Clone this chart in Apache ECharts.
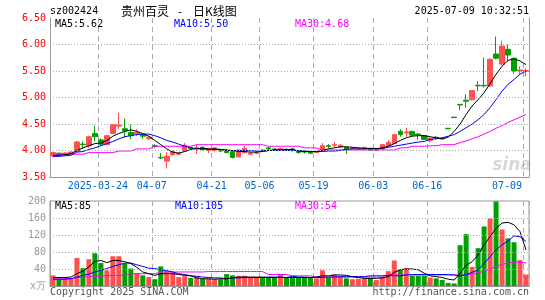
<!DOCTYPE html>
<html>
<head>
<meta charset="utf-8">
<script src="https://cdn.jsdelivr.net/npm/echarts@6/dist/echarts.min.js"></script>
<style>
html, body { margin: 0; padding: 0; background: #fff; }
#chart { width: 545px; height: 300px; }
</style>
</head>
<body>
<div id="chart"></div>
<script>
// 贵州百灵 日K线 (sz002424)

const tickPos = [8, 17, 27, 35, 44, 54, 63, 79];
const tickText = ['2025-03-24', '04-07', '04-21', '05-06', '05-19', '06-03', '06-16', '07-09'];
const priceLines = [4.0, 4.5, 5.0, 5.5, 6.0];
const volLines = [40, 80, 120, 160];

const opens = [3.90,3.95,3.93,3.94,3.98,4.12,4.09,4.32,4.20,4.11, 4.32,4.46,4.41,4.34,4.32,4.30,4.22,4.09,3.87,3.80,
  3.92,3.93,3.99,4.06,4.04,4.06,4.00,4.00,4.01,4.00, 3.98,3.88,3.96,3.93,3.95,4.01,4.05,4.03,4.01,4.02,
  4.03,3.99,3.98,3.98,3.96,4.00,4.09,4.10,4.07,4.06, 4.03,4.03,4.03,4.03,4.00,4.03,4.09,4.13,4.36,4.33,
  4.36,4.31,4.28,4.19,4.25,4.23,4.42,4.63,4.87,4.95, 4.96,5.23,5.23,5.22,5.82,5.63,5.91,5.74,5.50,5.49];
const closes = [3.96,3.92,3.95,3.97,4.16,4.11,4.26,4.26,4.12,4.28, 4.49,4.48,4.37,4.28,4.34,4.27,4.25,4.08,3.86,3.89,
  3.98,3.95,4.10,4.04,4.05,4.02,4.03,4.05,3.99,3.96, 3.87,4.01,4.04,3.95,3.96,3.99,4.03,4.02,4.04,4.01,
  4.02,3.96,3.97,3.95,3.98,4.09,4.08,4.11,4.10,4.02, 4.05,4.04,4.06,4.00,4.02,4.11,4.15,4.30,4.30,4.35,
  4.29,4.29,4.21,4.23,4.24,4.22,4.41,4.62,4.86,4.93, 5.13,5.22,5.22,5.72,5.74,5.97,5.80,5.50,5.52,5.51];
const lows = [3.87,3.89,3.91,3.92,3.97,4.04,4.05,4.17,4.09,4.10, 4.31,4.40,4.24,4.21,4.27,4.22,4.20,4.05,3.84,3.66,
  3.90,3.91,3.97,4.02,3.94,4.00,3.95,3.98,3.97,3.95, 3.85,3.87,3.94,3.91,3.93,3.97,4.00,4.00,4.00,3.99,
  3.98,3.94,3.94,3.93,3.95,3.99,4.04,4.05,4.04,3.94, 4.02,4.02,4.02,3.99,3.99,4.02,4.07,4.12,4.26,4.26,
  4.27,4.21,4.20,4.15,4.21,4.21,4.41,4.62,4.76,4.81, 4.94,5.12,5.19,5.20,5.72,5.61,5.68,5.45,5.44,5.40];
const highs = [3.98,3.96,3.97,3.99,4.18,4.17,4.28,4.47,4.23,4.29, 4.50,4.71,4.60,4.49,4.40,4.31,4.28,4.12,3.95,3.97,
  4.00,3.97,4.14,4.07,4.11,4.08,4.05,4.06,4.03,4.02, 3.99,4.02,4.09,3.97,3.99,4.02,4.07,4.04,4.05,4.04,
  4.05,4.00,4.00,3.99,3.99,4.14,4.12,4.16,4.12,4.07, 4.06,4.06,4.07,4.04,4.03,4.12,4.20,4.31,4.40,4.43,
  4.37,4.33,4.29,4.25,4.27,4.24,4.42,4.63,4.87,5.06, 5.14,5.31,5.75,5.74,6.15,6.07,6.00,5.75,5.59,5.55];

const ma5 = [3.90,3.91,3.92,3.94,4.00,4.05,4.09,4.13,4.14,4.19, 4.27,4.32,4.36,4.39,4.36,4.32,4.27,4.19,4.11,4.03,
  3.97,3.95,3.98,4.02,4.04,4.04,4.03,4.03,4.02,4.00, 4.00,3.98,3.98,3.97,3.97,3.98,4.00,4.01,4.02,4.02,
  4.02,3.99,3.98,3.98,3.98,4.00,4.03,4.05,4.07,4.07, 4.06,4.05,4.04,4.04,4.03,4.05,4.08,4.13,4.19,4.24,
  4.27,4.28,4.28,4.26,4.24,4.22,4.25,4.36,4.50,4.68, 4.84,4.96,5.09,5.26,5.44,5.59,5.70,5.73,5.69,5.62];
const ma10 = [3.89,3.89,3.90,3.91,3.97,3.98,4.02,4.05,4.09,4.13, 4.17,4.22,4.26,4.28,4.30,4.31,4.31,4.28,4.24,4.19,
  4.16,4.12,4.08,4.05,4.03,4.03,4.02,4.02,4.02,4.01, 4.00,4.00,4.00,4.00,3.99,3.99,4.00,4.00,4.00,4.00,
  4.00,4.00,3.99,3.98,3.98,3.98,3.99,3.99,4.00,4.02, 4.03,4.03,4.03,4.04,4.04,4.04,4.06,4.08,4.10,4.12,
  4.14,4.16,4.17,4.21,4.22,4.24,4.27,4.30,4.36,4.43, 4.50,4.58,4.68,4.81,4.96,5.12,5.25,5.34,5.44,5.50];
const ma30 = [3.93,3.93,3.93,3.93,3.93,3.93,3.96,3.96,3.96,3.96, 3.96,3.99,3.99,3.99,4.03,4.03,4.03,4.08,4.08,4.08,
  4.08,4.08,4.08,4.08,4.11,4.11,4.11,4.11,4.11,4.11, 4.11,4.11,4.11,4.11,4.11,4.11,4.08,4.08,4.08,4.08,
  4.08,4.08,4.05,4.05,4.05,4.01,4.01,4.01,4.01,4.01, 4.01,4.01,4.01,4.01,4.01,4.01,4.01,4.01,4.05,4.05,
  4.08,4.08,4.08,4.09,4.09,4.11,4.11,4.11,4.15,4.18, 4.22,4.26,4.31,4.36,4.42,4.47,4.53,4.58,4.63,4.68];

// 成交量 (万手)
const vol = [25,16,20,19,66,42,63,77,54,37, 70,70,53,41,30,25,21,16,46,35,
  32,21,23,19,23,17,17,16,16,28, 25,24,24,21,21,19,19,21,27,21,
  20,20,20,20,18,37,20,27,24,18, 16,17,18,19,14,21,35,60,38,42,
  24,24,24,20,18,14,7,6,96,122, 45,89,140,159,199,133,112,103,61,27];
const vma5 = [20,20,20,21,29,35,45,58,60,55, 60,60,57,53,44,33,29,25,29,29,
  29,27,25,24,19,17,17,16,17,17, 19,21,21,21,21,21,20,20,20,20,
  20,20,20,20,21,24,24,26,26,25, 22,20,18,18,18,19,22,32,38,40,
  40,38,30,24,22,20,16,14,30,49, 57,73,97,116,136,148,150,144,128,85];
const vma10 = [16,16,16,17,21,25,28,33,37,41, 46,50,54,54,50,46,42,41,38,36,
  33,29,27,24,23,21,20,19,19,17, 19,19,20,20,20,20,21,21,21,20,
  23,21,21,20,20,20,21,21,22,22, 22,22,22,24,24,24,25,24,24,26,
  27,27,27,27,27,27,27,26,24,27, 32,38,53,69,85,97,106,118,116,105];
const vma30 = [17,17,17,17,20,20,23,23,23,25, 25,25,25,29,29,29,29,29,33,33,
  33,33,33,33,33,33,34,34,34,34, 34,34,34,34,34,34,27,27,27,27,
  24,24,24,24,21,21,21,21,21,21, 21,21,21,21,21,21,26,26,26,26,
  26,26,26,26,26,26,26,26,25,26, 28,31,35,40,46,51,54,56,56,54];

const RED = '#ff5050';
const GREEN = '#00a000';
const MONO = 'DejaVu Sans Mono';

const cats = opens.map((_, i) => i);
const kData = opens.map((o, i) => [o, closes[i], lows[i], highs[i]]);
const volData = vol.map((v, i) => ({
    value: v,
    itemStyle: { color: closes[i] >= opens[i] ? RED : GREEN }
}));

const isTick = (i) => tickPos.indexOf(i) >= 0;

function txt(x, y, text, color, opts) {
    opts = opts || {};
    return {
        type: 'text', x: x, y: y, silent: true,
        style: {
            text: text, fill: color,
            font: opts.font || ('10px ' + MONO),
            textAlign: opts.align || 'left', align: opts.align || 'left',
            textVerticalAlign: 'middle', verticalAlign: 'middle'
        }
    };
}

function lineSeries(x, y, data, color) {
    return {
        type: 'line', xAxisIndex: x, yAxisIndex: y, data: data,
        symbol: 'none', silent: true,
        lineStyle: { color: color, width: 1 }
    };
}

// dotted horizontal guides, kept under the marks
function guideSeries(x, y, levels) {
    return {
        type: 'line', xAxisIndex: x, yAxisIndex: y, data: [], z: 1, silent: true,
        markLine: {
            silent: true, symbol: 'none', animation: false,
            label: { show: false },
            lineStyle: { color: '#aaa', width: 1, type: [1, 2] },
            data: levels.map(v => ({ yAxis: v }))
        }
    };
}

const chart = echarts.init(document.getElementById('chart'));

const option = {
    animation: false,
    backgroundColor: '#fff',
    grid: [
        { left: 50, right: 16, top: 18, height: 159 },
        { left: 50, right: 16, top: 201, height: 85, show: true, borderColor: '#999', borderWidth: 1 }
    ],
    xAxis: [
        {
            type: 'category', gridIndex: 0, data: cats, boundaryGap: true,
            axisLine: { lineStyle: { color: '#999' } },
            axisTick: { show: false },
            axisLabel: {
                interval: (i) => isTick(i),
                formatter: (v, i) => {
                    const k = tickPos.indexOf(i);
                    if (k < 0) return '';
                    return (i === cats.length - 1 ? '{b|' : '{a|') + tickText[k] + '}';
                },
                margin: 4,
                rich: {
                    a: { color: '#0066cc', fontFamily: MONO, fontSize: 10, padding: [0, 6, 0, 0] },
                    b: { color: '#0066cc', fontFamily: MONO, fontSize: 10, padding: [0, 38, 0, 0] }
                }
            },
            splitLine: { show: true, interval: (i) => isTick(i), lineStyle: { color: '#aaa', type: [5, 4] } }
        },
        {
            type: 'category', gridIndex: 1, data: cats, boundaryGap: true,
            axisLine: { lineStyle: { color: '#999' } },
            axisTick: { show: false },
            axisLabel: { show: false },
            splitLine: { show: true, interval: (i) => isTick(i), lineStyle: { color: '#aaa', type: [5, 4] } }
        }
    ],
    yAxis: [
        {
            type: 'value', gridIndex: 0, min: 3.5, max: 6.5, interval: 0.5,
            axisLine: { show: true, lineStyle: { color: '#999' } },
            axisTick: { show: false },
            axisLabel: { color: '#ff0000', fontFamily: MONO, fontSize: 10, margin: 4, formatter: (v) => v.toFixed(2) },
            splitLine: { show: false }
        },
        {
            type: 'value', gridIndex: 0, position: 'right', min: 3.5, max: 6.5, interval: 0.5,
            axisLine: { show: true, lineStyle: { color: '#999' } },
            axisTick: { show: false }, axisLabel: { show: false }, splitLine: { show: false }
        },
        {
            type: 'value', gridIndex: 1, min: 0, max: 200, interval: 40,
            axisLine: { show: true, lineStyle: { color: '#999' } },
            axisTick: { show: false },
            axisLabel: { color: '#999', fontFamily: MONO, fontSize: 10, margin: 4, formatter: (v) => v === 0 ? 'x万' : String(v) },
            splitLine: { show: false }
        }
    ],
    series: [
        guideSeries(0, 0, priceLines),
        guideSeries(1, 2, volLines),
        {
            type: 'candlestick', xAxisIndex: 0, yAxisIndex: 0, data: kData, barWidth: 5, silent: true,
            itemStyle: { color: RED, color0: GREEN, borderColor: RED, borderColor0: GREEN, borderWidth: 1 }
        },
        lineSeries(0, 0, ma30, '#ff00ff'),
        lineSeries(0, 0, ma10, '#0000ff'),
        lineSeries(0, 0, ma5, '#000000'),
        { type: 'bar', xAxisIndex: 1, yAxisIndex: 2, data: volData, barWidth: 5, silent: true },
        lineSeries(1, 2, vma30, '#ff00ff'),
        lineSeries(1, 2, vma10, '#0000ff'),
        lineSeries(1, 2, vma5, '#000000')
    ],
    graphic: [
        txt(50, 11, 'sz002424', '#000'),
        txt(121, 11, '贵州百灵', '#000', { font: '12px "Noto Sans CJK SC"' }),
        txt(180, 11, '-', '#000', { font: '12px "Noto Sans CJK SC"', align: 'center' }),
        txt(193, 11, '日K线图', '#000', { font: '12px "Noto Sans CJK SC"' }),
        txt(529, 11, '2025-07-09 10:32:51', '#000', { align: 'right' }),
        txt(55, 24, 'MA5:' + ma5[ma5.length - 1].toFixed(2), '#000'),
        txt(174, 24, 'MA10:' + ma10[ma10.length - 1].toFixed(2), '#0000ff'),
        txt(295, 24, 'MA30:' + ma30[ma30.length - 1].toFixed(2), '#ff00ff'),
        txt(55, 206, 'MA5:' + vma5[vma5.length - 1], '#000'),
        txt(175, 206, 'MA10:' + vma10[vma10.length - 1], '#0000ff'),
        txt(295, 206, 'MA30:' + vma30[vma30.length - 1], '#ff00ff'),
        txt(50, 292, 'Copyright 2025 SINA.COM', '#555'),
        txt(529, 292, 'http://finance.sina.com.cn', '#555', { align: 'right' }),
        txt(512, 166, 'sina', 'rgba(190,190,190,0.6)', { font: 'italic bold 17px "DejaVu Sans"', align: 'center' })
    ]
};

chart.setOption(option);
</script>
</body>
</html>
